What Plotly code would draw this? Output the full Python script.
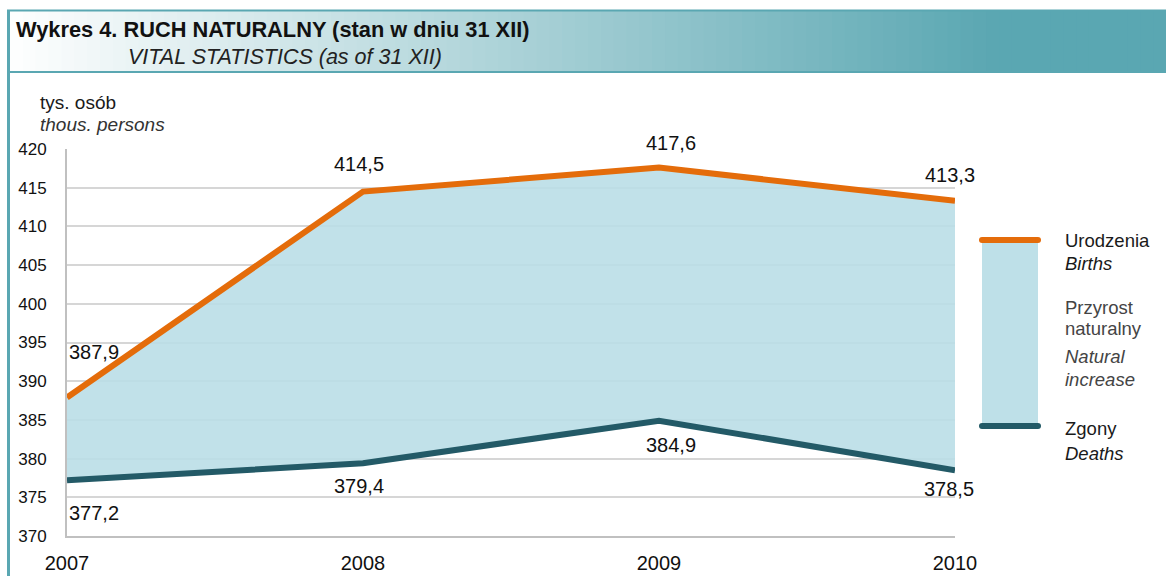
import plotly.graph_objects as go

years = [2007, 2008, 2009, 2010]
births = [387.9, 414.5, 417.6, 413.3]
deaths = [377.2, 379.4, 384.9, 378.5]
y_ticks = [370, 375, 380, 385, 390, 395, 400, 405, 410, 415, 420]

title_pl = "Wykres 4. RUCH NATURALNY (stan w dniu 31 XII)"
title_en = "VITAL STATISTICS (as of 31 XII)"
unit_pl = "tys. osób"
unit_en = "thous. persons"

ORANGE = "#e46c0a"
DARK = "#235a67"
FILL = "rgba(186,222,231,0.9)"
TEAL = "#5aa7b2"
FONT = "Liberation Sans, Arial, sans-serif"

W, H = 1166, 576
L, R, T, B = 67, 955, 149, 536


def px(x):
    return (x - L) / (R - L)


def py(y):
    return (B - y) / (B - T)


def fmt(v):
    return f"{v:.1f}".replace(".", ",")


fig = go.Figure()
fig.add_trace(go.Scatter(x=years, y=deaths, mode="lines",
                         line=dict(color=DARK, width=6), hoverinfo="skip",
                         showlegend=False))
fig.add_trace(go.Scatter(x=years, y=births, mode="lines", fill="tonexty",
                         fillcolor=FILL, line=dict(color=ORANGE, width=6),
                         hoverinfo="skip", showlegend=False))

shapes = []
# title band gradient
n = 90
x0, x1 = 10, W
c0 = (255, 255, 255)
c1 = (90, 167, 178)
for i in range(n):
    a = x0 + (x1 - x0) * i / n
    b = x0 + (x1 - x0) * (i + 1) / n
    t = min(1.0, ((a + b) / 2 - x0) / (1000 - x0))
    col = tuple(int(c0[k] + (c1[k] - c0[k]) * t) for k in range(3))
    shapes.append(dict(type="rect", xref="paper", yref="paper",
                       x0=px(a), x1=px(b) + 0.001, y0=py(71), y1=py(11),
                       fillcolor="rgb(%d,%d,%d)" % col, line=dict(width=0),
                       layer="below"))
shapes.append(dict(type="line", xref="paper", yref="paper", x0=px(7), x1=px(W),
                   y0=py(10.5), y1=py(10.5), line=dict(color=TEAL, width=2)))
shapes.append(dict(type="line", xref="paper", yref="paper", x0=px(7), x1=px(W),
                   y0=py(72), y1=py(72), line=dict(color=TEAL, width=2)))
shapes.append(dict(type="rect", xref="paper", yref="paper", x0=px(7), x1=px(10),
                   y0=py(H), y1=py(10), fillcolor=TEAL, line=dict(width=0)))
# legend
shapes.append(dict(type="rect", xref="paper", yref="paper", x0=px(982), x1=px(1038),
                   y0=py(426), y1=py(240), fillcolor="rgb(190,224,232)",
                   line=dict(width=0)))
for yy, cc in ((240, ORANGE), (426, DARK)):
    shapes.append(dict(type="line", xref="paper", yref="paper", x0=px(982), x1=px(1038),
                       y0=py(yy), y1=py(yy), line=dict(color=cc, width=6)))
    for xx in (982, 1038):
        shapes.append(dict(type="circle", xref="paper", yref="paper",
                           x0=px(xx - 3), x1=px(xx + 3), y0=py(yy + 3), y1=py(yy - 3),
                           fillcolor=cc, line=dict(width=0)))

ann = []


def text(x, y, s, size=19, color="#1a1a1a", italic=False, bold=False, anchor="left"):
    ann.append(dict(xref="paper", yref="paper", x=px(x), y=py(y), text=s,
                    showarrow=False, xanchor=anchor, yanchor="middle",
                    font=dict(family=FONT, size=size, color=color,
                              style="italic" if italic else "normal",
                              weight="bold" if bold else "normal")))


text(14, 30, title_pl, size=21.8, bold=True, color="#111111")
text(126, 57, title_en, size=21.5, italic=True, color="#222222")
text(38, 103, unit_pl, size=19)
text(38, 124, unit_en, size=19, italic=True, color="#333333")
text(1063, 240, "Urodzenia", size=18.5)
text(1063, 263, "Births", size=18.5, italic=True)
text(1063, 307, "Przyrost", size=18.5, color="#444444")
text(1063, 328, "naturalny", size=18.5, color="#444444")
text(1063, 356, "Natural", size=18.5, italic=True, color="#444444")
text(1063, 379, "increase", size=18.5, italic=True, color="#444444")
text(1063, 428, "Zgony", size=18.5)
text(1063, 453, "Deaths", size=18.5, italic=True)

b_shift = [(0, 45, "left"), (-4, 28, "center"), (12, 25, "center"), (-5, 26, "center")]
d_shift = [(0, -33, "left"), (-4, -23, "center"), (12, -24, "center"), (-6, -19, "center")]
for i, yr in enumerate(years):
    for vals, sh in ((births, b_shift), (deaths, d_shift)):
        xs, ys, anc = sh[i]
        ann.append(dict(x=yr, y=vals[i], xref="x", yref="y", text=fmt(vals[i]),
                        showarrow=False, xanchor=anc, yanchor="middle",
                        xshift=xs, yshift=ys,
                        font=dict(family=FONT, size=20, color="#111111")))

fig.update_layout(
    width=W, height=H,
    margin=dict(l=L, r=W - R, t=T, b=H - B),
    paper_bgcolor="white", plot_bgcolor="white",
    separators=", ",
    shapes=shapes, annotations=ann,
    xaxis=dict(range=[2007, 2010], tickvals=years, ticktext=[str(y) for y in years],
               showgrid=False, zeroline=False, showline=True, automargin=False,
               linecolor="#c0c0c0", linewidth=2,
               tickfont=dict(family=FONT, size=20, color="#111111"), ticks="",
               ticklabelstandoff=8),
    yaxis=dict(range=[370, 420], tickvals=y_ticks, showgrid=True, automargin=False,
               gridcolor="#d6d6d6", gridwidth=2, zeroline=False,
               showline=True, linecolor="#c0c0c0", linewidth=2,
               tickfont=dict(family=FONT, size=17, color="#111111"), ticks="",
               ticklabelstandoff=15),
)
fig.write_html("out.html", config={"displayModeBar": False},
               post_script="document.body.style.margin='0';document.body.style.overflow='hidden';")
